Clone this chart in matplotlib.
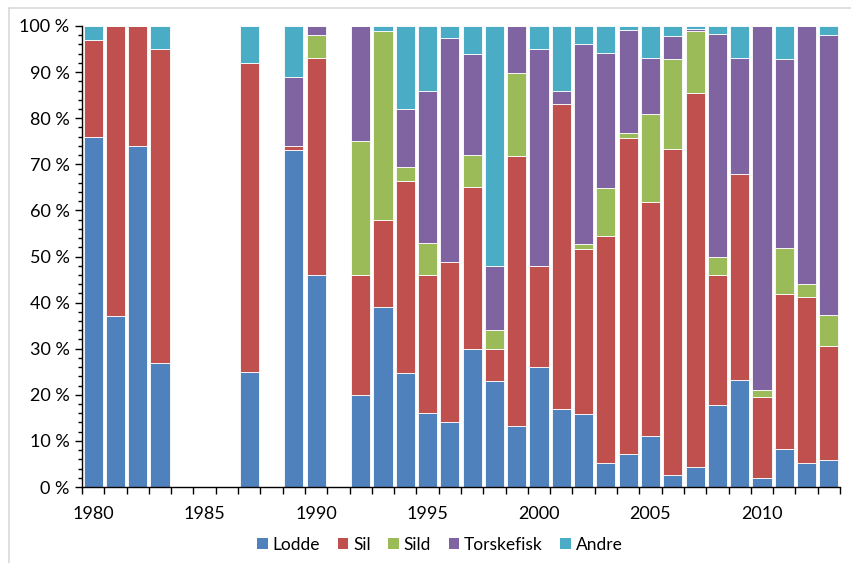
import matplotlib
matplotlib.use("Agg")
import matplotlib.pyplot as plt
from matplotlib.lines import Line2D
from matplotlib.patches import Patch
import numpy as np

plt.rcParams['font.family'] = ['Lato', 'DejaVu Sans']

years = list(range(1980, 2014))
# percentage shares (years without data are zero)
lodde = {1980: 76, 1981: 37, 1982: 74, 1983: 27, 1987: 25, 1989: 73, 1990: 46,
         1992: 20, 1993: 39, 1994: 24.7, 1995: 16, 1996: 14, 1997: 30, 1998: 23,
         1999: 13.2, 2000: 26, 2001: 17, 2002: 15.8, 2003: 5.1, 2004: 7.1, 2005: 11,
         2006: 2.5, 2007: 4.4, 2008: 17.8, 2009: 23.3, 2010: 2, 2011: 8.3, 2012: 5.1,
         2013: 5.9}
sil = {1980: 21, 1981: 63, 1982: 25.9, 1983: 68, 1987: 67, 1989: 1, 1990: 47,
       1992: 26, 1993: 19, 1994: 41.6, 1995: 30, 1996: 34.7, 1997: 35, 1998: 7,
       1999: 58.5, 2000: 22, 2001: 66, 2002: 35.9, 2003: 49.4, 2004: 68.7, 2005: 50.9,
       2006: 70.9, 2007: 81.1, 2008: 28.1, 2009: 44.7, 2010: 17.5, 2011: 33.6,
       2012: 36.1, 2013: 24.7}
sild = {1990: 5, 1992: 29, 1993: 41, 1994: 3.1, 1995: 7, 1996: 0.2, 1997: 7,
        1998: 4, 1999: 18.2, 2002: 1.1, 2003: 10.3, 2004: 1, 2005: 19.1, 2006: 19.5,
        2007: 13.5, 2008: 3.9, 2010: 1.5, 2011: 9.9, 2012: 2.9, 2013: 6.7}
torsk = {1982: 0.1, 1989: 15, 1990: 2, 1992: 25, 1994: 12.7, 1995: 33, 1996: 48.6,
         1997: 22, 1998: 14, 1999: 10.1, 2000: 47, 2001: 3, 2002: 43.4, 2003: 29.3,
         2004: 22.3, 2005: 12, 2006: 4.9, 2007: 0.3, 2008: 48.4, 2009: 25, 2010: 78.9,
         2011: 41.1, 2012: 55.9, 2013: 60.7}
andre = {1980: 3, 1983: 5, 1987: 8, 1989: 11, 1993: 1, 1994: 17.9, 1995: 14,
         1996: 2.5, 1997: 6, 1998: 52, 2000: 5, 2001: 14, 2002: 3.8, 2003: 5.9,
         2004: 0.9, 2005: 7, 2006: 2.2, 2007: 0.7, 2008: 1.8, 2009: 7, 2010: 0.1,
         2011: 7.1, 2013: 2}

series_names = ["Lodde", "Sil", "Sild", "Torskefisk", "Andre"]
series_data = [lodde, sil, sild, torsk, andre]
colors = ["#4F81BD", "#C0504D", "#9BBB59", "#8064A2", "#4BACC6"]

fig = plt.figure(figsize=(8.51, 5.63), dpi=100)
ax = fig.add_axes([82/851, 1 - 487/563, (840-82)/851, (487-26)/563])

x = np.arange(len(years))
bottom = np.zeros(len(years))
for name, d, c in zip(series_names, series_data, colors):
    vals = np.array([d.get(y, 0) for y in years], dtype=float)
    ax.bar(x, vals, width=0.86, bottom=bottom, color=c, edgecolor='white',
           linewidth=0.6, label=name)
    bottom += vals

ax.set_xlim(-0.5, len(years) - 0.5)
ax.set_ylim(0, 100)

# y axis
ax.set_yticks(np.arange(0, 101, 10))
ax.set_yticklabels([f"{v} %" for v in range(0, 101, 10)])
ax.set_yticks(np.arange(0, 101, 2), minor=True)
ax.tick_params(axis='y', which='major', length=5, width=1, direction='out',
               labelsize=13, pad=4, color='black')
ax.tick_params(axis='y', which='minor', length=3, width=1, direction='out', color='black')

# x axis: ticks at category boundaries, labels every 5 years
ax.set_xticks(np.arange(-0.5, len(years), 1))
ax.set_xticklabels([])
label_years = [1980, 1985, 1990, 1995, 2000, 2005, 2010]
ax.set_xticks([years.index(y) for y in label_years], minor=True)
ax.set_xticklabels([str(y) for y in label_years], minor=True)
ax.tick_params(axis='x', which='major', length=5, width=1, direction='out', color='black')
ax.tick_params(axis='x', which='minor', length=0, labelsize=13, pad=14)

for s in ['top', 'right']:
    ax.spines[s].set_visible(False)
for s in ['left', 'bottom']:
    ax.spines[s].set_color('black')
    ax.spines[s].set_linewidth(1)

handles = [Patch(facecolor=c, edgecolor='none', label=n) for n, c in zip(series_names, colors)]
fig.legend(handles=handles, loc='center', bbox_to_anchor=(440/851, 1 - 545/563),
           ncol=5, frameon=False, fontsize=12.5, handlelength=0.6, handleheight=0.6,
           handletextpad=0.3, columnspacing=1.0)

# chart area border (partially visible)
fig.add_artist(Line2D([9/851, 1], [1 - 8/563, 1 - 8/563], color='#D9D9D9', lw=1.2,
                      transform=fig.transFigure))
fig.add_artist(Line2D([9/851, 9/851], [0, 1 - 8/563], color='#D9D9D9', lw=1.2,
                      transform=fig.transFigure))

fig.savefig("out.png", dpi=100)
